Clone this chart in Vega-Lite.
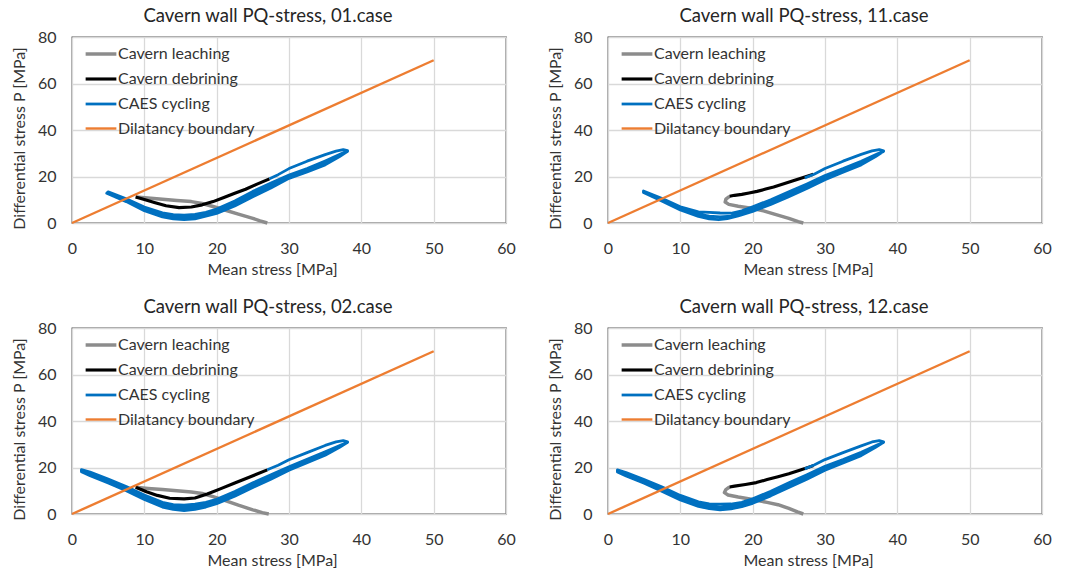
{
  "$schema": "https://vega.github.io/schema/vega-lite/v6.json",
  "padding": {"left": 10, "top": 5, "right": 30, "bottom": 4},
  "columns": 2,
  "spacing": {"row": 105, "column": 102},
  "bounds": "flush",
  "datasets": {
    "p1": [
      {"s":"Cavern leaching","x":8.8,"y":11.2},{"s":"Cavern leaching","x":10.5,"y":10.8},{"s":"Cavern leaching","x":12.5,"y":10.2},{"s":"Cavern leaching","x":14.5,"y":9.7},{"s":"Cavern leaching","x":16.5,"y":9.2},{"s":"Cavern leaching","x":18.0,"y":8.4},{"s":"Cavern leaching","x":19.5,"y":7.1},{"s":"Cavern leaching","x":21.0,"y":5.7},{"s":"Cavern leaching","x":23.0,"y":3.8},{"s":"Cavern leaching","x":25.0,"y":2.0},{"s":"Cavern leaching","x":26.0,"y":0.9},{"s":"Cavern leaching","x":27.0,"y":0.0},
      {"s":"Cavern debrining","x":8.8,"y":11.2},{"s":"Cavern debrining","x":10.0,"y":10.1},{"s":"Cavern debrining","x":11.5,"y":8.7},{"s":"Cavern debrining","x":13.0,"y":7.4},{"s":"Cavern debrining","x":14.8,"y":6.6},{"s":"Cavern debrining","x":16.5,"y":6.9},{"s":"Cavern debrining","x":18.0,"y":7.8},{"s":"Cavern debrining","x":19.5,"y":9.2},{"s":"Cavern debrining","x":21.0,"y":11.0},{"s":"Cavern debrining","x":22.5,"y":12.8},{"s":"Cavern debrining","x":24.0,"y":14.5},{"s":"Cavern debrining","x":25.5,"y":16.6},{"s":"Cavern debrining","x":27.3,"y":19.0},
      {"s":"CAES cycling","x":27.3,"y":19.0},{"s":"CAES cycling","x":28.5,"y":20.8},{"s":"CAES cycling","x":30,"y":23.4},{"s":"CAES cycling","x":32.5,"y":26.6},{"s":"CAES cycling","x":35,"y":29.4},{"s":"CAES cycling","x":36.5,"y":30.9},{"s":"CAES cycling","x":37.5,"y":31.6},{"s":"CAES cycling","x":38.1,"y":31.1},
      {"s":"CAES cycling","x":37.5,"y":30.2},{"s":"CAES cycling","x":35,"y":26.7},{"s":"CAES cycling","x":32.5,"y":23.4},{"s":"CAES cycling","x":30,"y":20.6},{"s":"CAES cycling","x":27.5,"y":17.2},{"s":"CAES cycling","x":25,"y":13.6},{"s":"CAES cycling","x":22.5,"y":9.5},{"s":"CAES cycling","x":20,"y":6.0},{"s":"CAES cycling","x":18.5,"y":4.6},{"s":"CAES cycling","x":17,"y":3.7},{"s":"CAES cycling","x":15.5,"y":3.4},{"s":"CAES cycling","x":14,"y":3.6},{"s":"CAES cycling","x":12.5,"y":4.4},{"s":"CAES cycling","x":10,"y":6.9},{"s":"CAES cycling","x":7.5,"y":10.4},{"s":"CAES cycling","x":5,"y":13.4},
      {"s":"CAES cycling","x":4.8,"y":12.8},{"s":"CAES cycling","x":7.5,"y":9.2},{"s":"CAES cycling","x":10,"y":5.3},{"s":"CAES cycling","x":12.5,"y":2.6},{"s":"CAES cycling","x":14,"y":1.8},{"s":"CAES cycling","x":15.5,"y":1.5},{"s":"CAES cycling","x":17,"y":1.8},{"s":"CAES cycling","x":18.5,"y":2.9},{"s":"CAES cycling","x":20,"y":4.1},{"s":"CAES cycling","x":22.5,"y":7.3},{"s":"CAES cycling","x":25,"y":11.3},{"s":"CAES cycling","x":27.5,"y":15.0},{"s":"CAES cycling","x":30,"y":19.2},{"s":"CAES cycling","x":32.5,"y":22.0},{"s":"CAES cycling","x":35,"y":25.0},{"s":"CAES cycling","x":37,"y":28.6},{"s":"CAES cycling","x":38.1,"y":30.8},
      {"s":"CAES cycling","x":37,"y":29.1},{"s":"CAES cycling","x":35,"y":25.9},{"s":"CAES cycling","x":32.5,"y":22.7},{"s":"CAES cycling","x":30,"y":19.9},{"s":"CAES cycling","x":27.5,"y":16.1},{"s":"CAES cycling","x":25,"y":12.5},{"s":"CAES cycling","x":22.5,"y":8.4},{"s":"CAES cycling","x":20,"y":5.0},{"s":"CAES cycling","x":18.5,"y":3.7},{"s":"CAES cycling","x":17,"y":2.8},{"s":"CAES cycling","x":15.5,"y":2.4},{"s":"CAES cycling","x":14,"y":2.7},{"s":"CAES cycling","x":12.5,"y":3.5},{"s":"CAES cycling","x":10,"y":6.1},{"s":"CAES cycling","x":7.5,"y":9.8},{"s":"CAES cycling","x":5,"y":13.1},
      {"s":"Dilatancy boundary","x":0,"y":0},{"s":"Dilatancy boundary","x":50,"y":70}
    ],
    "p2": [
      {"s":"Cavern leaching","x":16.8,"y":11.5},{"s":"Cavern leaching","x":16.3,"y":10.3},{"s":"Cavern leaching","x":16.2,"y":9.0},{"s":"Cavern leaching","x":16.7,"y":8.0},{"s":"Cavern leaching","x":18.0,"y":7.2},{"s":"Cavern leaching","x":20.0,"y":6.2},{"s":"Cavern leaching","x":21.5,"y":5.2},{"s":"Cavern leaching","x":23.0,"y":3.8},{"s":"Cavern leaching","x":25.0,"y":2.0},{"s":"Cavern leaching","x":26.3,"y":0.6},{"s":"Cavern leaching","x":27.0,"y":0.0},
      {"s":"Cavern debrining","x":16.8,"y":11.5},{"s":"Cavern debrining","x":17.5,"y":11.9},{"s":"Cavern debrining","x":18.5,"y":12.3},{"s":"Cavern debrining","x":19.5,"y":12.9},{"s":"Cavern debrining","x":20.6,"y":13.6},{"s":"Cavern debrining","x":21.8,"y":14.6},{"s":"Cavern debrining","x":22.9,"y":15.5},{"s":"Cavern debrining","x":24.2,"y":16.8},{"s":"Cavern debrining","x":25.6,"y":18.2},{"s":"Cavern debrining","x":27.0,"y":19.6},{"s":"Cavern debrining","x":28.4,"y":21.0},
      {"s":"CAES cycling","x":27.2,"y":19.4},{"s":"CAES cycling","x":28.5,"y":21.0},{"s":"CAES cycling","x":30,"y":23.4},{"s":"CAES cycling","x":32.5,"y":26.6},{"s":"CAES cycling","x":35,"y":29.5},{"s":"CAES cycling","x":36.5,"y":31.0},{"s":"CAES cycling","x":37.5,"y":31.6},{"s":"CAES cycling","x":38.1,"y":31.0},
      {"s":"CAES cycling","x":37.5,"y":30.1},{"s":"CAES cycling","x":35,"y":26.6},{"s":"CAES cycling","x":32.5,"y":23.4},{"s":"CAES cycling","x":30,"y":20.4},{"s":"CAES cycling","x":27.5,"y":16.8},{"s":"CAES cycling","x":25,"y":13.4},{"s":"CAES cycling","x":22.5,"y":10.0},{"s":"CAES cycling","x":20,"y":7.0},{"s":"CAES cycling","x":18.5,"y":5.2},{"s":"CAES cycling","x":17,"y":4.2},{"s":"CAES cycling","x":15.5,"y":4.3},{"s":"CAES cycling","x":14,"y":4.6},{"s":"CAES cycling","x":12.5,"y":4.8},{"s":"CAES cycling","x":10,"y":7.0},{"s":"CAES cycling","x":7.5,"y":10.5},{"s":"CAES cycling","x":4.9,"y":13.8},
      {"s":"CAES cycling","x":4.9,"y":13.1},{"s":"CAES cycling","x":7.5,"y":9.4},{"s":"CAES cycling","x":10,"y":5.6},{"s":"CAES cycling","x":12.5,"y":2.8},{"s":"CAES cycling","x":14,"y":1.8},{"s":"CAES cycling","x":15.3,"y":1.4},{"s":"CAES cycling","x":16.5,"y":1.9},{"s":"CAES cycling","x":18,"y":3.0},{"s":"CAES cycling","x":20,"y":5.0},{"s":"CAES cycling","x":22.5,"y":8.0},{"s":"CAES cycling","x":25,"y":11.3},{"s":"CAES cycling","x":27.5,"y":14.8},{"s":"CAES cycling","x":30,"y":18.6},{"s":"CAES cycling","x":32.5,"y":21.8},{"s":"CAES cycling","x":35,"y":25.0},{"s":"CAES cycling","x":37,"y":28.6},{"s":"CAES cycling","x":38.1,"y":30.8},
      {"s":"CAES cycling","x":37,"y":29.1},{"s":"CAES cycling","x":35,"y":25.8},{"s":"CAES cycling","x":32.5,"y":22.6},{"s":"CAES cycling","x":30,"y":19.5},{"s":"CAES cycling","x":27.5,"y":15.8},{"s":"CAES cycling","x":25,"y":12.4},{"s":"CAES cycling","x":22.5,"y":9.0},{"s":"CAES cycling","x":20,"y":6.0},{"s":"CAES cycling","x":18.5,"y":4.2},{"s":"CAES cycling","x":17,"y":3.0},{"s":"CAES cycling","x":15.5,"y":2.6},{"s":"CAES cycling","x":14,"y":3.0},{"s":"CAES cycling","x":12.5,"y":3.8},{"s":"CAES cycling","x":10,"y":6.3},{"s":"CAES cycling","x":7.5,"y":10.0},{"s":"CAES cycling","x":4.9,"y":13.5},
      {"s":"Dilatancy boundary","x":0,"y":0},{"s":"Dilatancy boundary","x":50,"y":70}
    ],
    "p3": [
      {"s":"Cavern leaching","x":8.8,"y":11.5},{"s":"Cavern leaching","x":10.5,"y":11.0},{"s":"Cavern leaching","x":12.5,"y":10.5},{"s":"Cavern leaching","x":14.5,"y":10.0},{"s":"Cavern leaching","x":16.5,"y":9.5},{"s":"Cavern leaching","x":18.0,"y":8.8},{"s":"Cavern leaching","x":19.5,"y":7.5},{"s":"Cavern leaching","x":21.0,"y":6.0},{"s":"Cavern leaching","x":23.0,"y":3.8},{"s":"Cavern leaching","x":25.0,"y":1.8},{"s":"Cavern leaching","x":26.3,"y":0.6},{"s":"Cavern leaching","x":27.2,"y":0.0},
      {"s":"Cavern debrining","x":8.8,"y":11.5},{"s":"Cavern debrining","x":10.3,"y":9.6},{"s":"Cavern debrining","x":11.8,"y":8.0},{"s":"Cavern debrining","x":13.5,"y":6.8},{"s":"Cavern debrining","x":15.5,"y":6.5},{"s":"Cavern debrining","x":17.0,"y":6.9},{"s":"Cavern debrining","x":18.7,"y":8.6},{"s":"Cavern debrining","x":20.5,"y":10.8},{"s":"Cavern debrining","x":22.5,"y":13.3},{"s":"Cavern debrining","x":24.5,"y":15.8},{"s":"Cavern debrining","x":27.0,"y":19.0},
      {"s":"CAES cycling","x":27.0,"y":19.0},{"s":"CAES cycling","x":28.5,"y":21.0},{"s":"CAES cycling","x":30,"y":23.3},{"s":"CAES cycling","x":32.5,"y":26.4},{"s":"CAES cycling","x":35,"y":29.5},{"s":"CAES cycling","x":36.5,"y":31.0},{"s":"CAES cycling","x":37.5,"y":31.6},{"s":"CAES cycling","x":38.1,"y":31.0},
      {"s":"CAES cycling","x":37.5,"y":30.1},{"s":"CAES cycling","x":35,"y":26.8},{"s":"CAES cycling","x":32.5,"y":23.5},{"s":"CAES cycling","x":30,"y":20.3},{"s":"CAES cycling","x":27.5,"y":16.9},{"s":"CAES cycling","x":25,"y":13.4},{"s":"CAES cycling","x":22.5,"y":9.7},{"s":"CAES cycling","x":20,"y":6.3},{"s":"CAES cycling","x":18.5,"y":5.0},{"s":"CAES cycling","x":17,"y":4.2},{"s":"CAES cycling","x":15.5,"y":3.8},{"s":"CAES cycling","x":14,"y":4.0},{"s":"CAES cycling","x":12.5,"y":5.0},{"s":"CAES cycling","x":10,"y":8.2},{"s":"CAES cycling","x":7.5,"y":11.8},{"s":"CAES cycling","x":5,"y":15.0},{"s":"CAES cycling","x":2.5,"y":18.0},{"s":"CAES cycling","x":1.3,"y":19.1},
      {"s":"CAES cycling","x":1.3,"y":18.2},{"s":"CAES cycling","x":2.5,"y":16.5},{"s":"CAES cycling","x":5,"y":13.3},{"s":"CAES cycling","x":7.5,"y":10.0},{"s":"CAES cycling","x":10,"y":6.2},{"s":"CAES cycling","x":12.5,"y":3.0},{"s":"CAES cycling","x":14,"y":2.0},{"s":"CAES cycling","x":15.5,"y":1.5},{"s":"CAES cycling","x":17,"y":2.0},{"s":"CAES cycling","x":18.5,"y":3.0},{"s":"CAES cycling","x":20,"y":4.4},{"s":"CAES cycling","x":22.5,"y":7.6},{"s":"CAES cycling","x":25,"y":11.4},{"s":"CAES cycling","x":27.5,"y":15.0},{"s":"CAES cycling","x":30,"y":18.8},{"s":"CAES cycling","x":32.5,"y":22.1},{"s":"CAES cycling","x":35,"y":25.3},{"s":"CAES cycling","x":37,"y":28.7},{"s":"CAES cycling","x":38.1,"y":30.8},
      {"s":"CAES cycling","x":37,"y":29.2},{"s":"CAES cycling","x":35,"y":26.0},{"s":"CAES cycling","x":32.5,"y":22.8},{"s":"CAES cycling","x":30,"y":19.5},{"s":"CAES cycling","x":27.5,"y":16.0},{"s":"CAES cycling","x":25,"y":12.4},{"s":"CAES cycling","x":22.5,"y":8.7},{"s":"CAES cycling","x":20,"y":5.3},{"s":"CAES cycling","x":18.5,"y":4.0},{"s":"CAES cycling","x":17,"y":3.1},{"s":"CAES cycling","x":15.5,"y":2.6},{"s":"CAES cycling","x":14,"y":3.0},{"s":"CAES cycling","x":12.5,"y":4.0},{"s":"CAES cycling","x":10,"y":7.2},{"s":"CAES cycling","x":7.5,"y":10.9},{"s":"CAES cycling","x":5,"y":14.2},{"s":"CAES cycling","x":2.5,"y":17.2},{"s":"CAES cycling","x":1.3,"y":18.7},
      {"s":"Dilatancy boundary","x":0,"y":0},{"s":"Dilatancy boundary","x":50,"y":70}
    ],
    "p4": [
      {"s":"Cavern leaching","x":16.8,"y":11.6},{"s":"Cavern leaching","x":16.3,"y":10.5},{"s":"Cavern leaching","x":16.1,"y":9.2},{"s":"Cavern leaching","x":16.6,"y":8.2},{"s":"Cavern leaching","x":18.0,"y":7.3},{"s":"Cavern leaching","x":20.0,"y":6.2},{"s":"Cavern leaching","x":22.0,"y":5.0},{"s":"Cavern leaching","x":23.5,"y":4.0},{"s":"Cavern leaching","x":25.0,"y":2.4},{"s":"Cavern leaching","x":26.2,"y":0.9},{"s":"Cavern leaching","x":27.0,"y":0.0},
      {"s":"Cavern debrining","x":16.8,"y":11.6},{"s":"Cavern debrining","x":17.5,"y":12.0},{"s":"Cavern debrining","x":19.0,"y":12.7},{"s":"Cavern debrining","x":20.5,"y":13.5},{"s":"Cavern debrining","x":22.0,"y":14.8},{"s":"Cavern debrining","x":23.5,"y":16.0},{"s":"Cavern debrining","x":25.0,"y":17.3},{"s":"Cavern debrining","x":26.5,"y":18.8},{"s":"Cavern debrining","x":28.4,"y":20.8},
      {"s":"CAES cycling","x":27.2,"y":19.4},{"s":"CAES cycling","x":28.5,"y":21.1},{"s":"CAES cycling","x":30,"y":23.4},{"s":"CAES cycling","x":32.5,"y":26.4},{"s":"CAES cycling","x":35,"y":29.3},{"s":"CAES cycling","x":36.5,"y":31.0},{"s":"CAES cycling","x":37.5,"y":31.6},{"s":"CAES cycling","x":38.1,"y":31.0},
      {"s":"CAES cycling","x":37.5,"y":30.1},{"s":"CAES cycling","x":35,"y":26.6},{"s":"CAES cycling","x":32.5,"y":23.4},{"s":"CAES cycling","x":30,"y":20.5},{"s":"CAES cycling","x":27.5,"y":16.9},{"s":"CAES cycling","x":25,"y":13.4},{"s":"CAES cycling","x":22.5,"y":9.8},{"s":"CAES cycling","x":20,"y":6.5},{"s":"CAES cycling","x":18.5,"y":5.0},{"s":"CAES cycling","x":17,"y":4.3},{"s":"CAES cycling","x":15.5,"y":4.2},{"s":"CAES cycling","x":14,"y":4.4},{"s":"CAES cycling","x":12.5,"y":5.2},{"s":"CAES cycling","x":10,"y":8.0},{"s":"CAES cycling","x":7.5,"y":11.6},{"s":"CAES cycling","x":5,"y":14.8},{"s":"CAES cycling","x":2.5,"y":17.8},{"s":"CAES cycling","x":1.3,"y":19.0},
      {"s":"CAES cycling","x":1.3,"y":18.1},{"s":"CAES cycling","x":2.5,"y":16.4},{"s":"CAES cycling","x":5,"y":13.2},{"s":"CAES cycling","x":7.5,"y":9.7},{"s":"CAES cycling","x":10,"y":6.0},{"s":"CAES cycling","x":12.5,"y":3.3},{"s":"CAES cycling","x":14,"y":2.3},{"s":"CAES cycling","x":15.5,"y":1.8},{"s":"CAES cycling","x":17,"y":2.2},{"s":"CAES cycling","x":18.5,"y":3.2},{"s":"CAES cycling","x":20,"y":4.6},{"s":"CAES cycling","x":22.5,"y":7.8},{"s":"CAES cycling","x":25,"y":11.4},{"s":"CAES cycling","x":27.5,"y":15.0},{"s":"CAES cycling","x":30,"y":18.8},{"s":"CAES cycling","x":32.5,"y":22.0},{"s":"CAES cycling","x":35,"y":25.1},{"s":"CAES cycling","x":37,"y":28.7},{"s":"CAES cycling","x":38.1,"y":30.8},
      {"s":"CAES cycling","x":37,"y":29.2},{"s":"CAES cycling","x":35,"y":25.9},{"s":"CAES cycling","x":32.5,"y":22.7},{"s":"CAES cycling","x":30,"y":19.6},{"s":"CAES cycling","x":27.5,"y":16.0},{"s":"CAES cycling","x":25,"y":12.4},{"s":"CAES cycling","x":22.5,"y":8.8},{"s":"CAES cycling","x":20,"y":5.5},{"s":"CAES cycling","x":18.5,"y":4.1},{"s":"CAES cycling","x":17,"y":3.3},{"s":"CAES cycling","x":15.5,"y":3.0},{"s":"CAES cycling","x":14,"y":3.3},{"s":"CAES cycling","x":12.5,"y":4.2},{"s":"CAES cycling","x":10,"y":7.0},{"s":"CAES cycling","x":7.5,"y":10.6},{"s":"CAES cycling","x":5,"y":14.0},{"s":"CAES cycling","x":2.5,"y":17.1},{"s":"CAES cycling","x":1.3,"y":18.6},
      {"s":"Dilatancy boundary","x":0,"y":0},{"s":"Dilatancy boundary","x":50,"y":70}
    ]
  },
  "concat": [
    {
      "data": {"name": "p1"},
      "width": 434, "height": 186,
      "title": {"text": "Cavern wall PQ-stress, 01.case", "dx": -21},
      "mark": {"type": "line", "strokeJoin": "round"},
      "encoding": {
        "x": {"field": "x", "type": "quantitative", "scale": {"domain": [0, 60], "nice": false}, "axis": {"values": [0,10,20,30,40,50,60], "title": "Mean stress [MPa]", "titleX": 200}},
        "y": {"field": "y", "type": "quantitative", "scale": {"domain": [0, 80], "nice": false}, "axis": {"values": [0,20,40,60,80], "title": "Differential stress P [MPa]", "titleY": 101}},
        "color": {"field": "s", "type": "nominal", "scale": {"domain": ["Cavern leaching","Cavern debrining","CAES cycling","Dilatancy boundary"], "range": ["#8c8c8c","#000000","#0070c0","#ed7d31"]}, "legend": {"title": null, "orient": "none", "legendX": 17, "legendY": 5}},
        "strokeWidth": {"field": "s", "type": "nominal", "scale": {"domain": ["Cavern leaching","Cavern debrining","CAES cycling","Dilatancy boundary"], "range": [3.5, 2.4, 2.4, 2]}, "legend": {"title": null, "orient": "none", "legendX": 17, "legendY": 5}},
        "order": {"value": null}
      }
    },
    {
      "data": {"name": "p2"},
      "width": 434, "height": 186,
      "title": {"text": "Cavern wall PQ-stress, 11.case", "dx": -21},
      "mark": {"type": "line", "strokeJoin": "round"},
      "encoding": {
        "x": {"field": "x", "type": "quantitative", "scale": {"domain": [0, 60], "nice": false}, "axis": {"values": [0,10,20,30,40,50,60], "title": "Mean stress [MPa]", "titleX": 200}},
        "y": {"field": "y", "type": "quantitative", "scale": {"domain": [0, 80], "nice": false}, "axis": {"values": [0,20,40,60,80], "title": "Differential stress P [MPa]", "titleY": 101}},
        "color": {"field": "s", "type": "nominal", "scale": {"domain": ["Cavern leaching","Cavern debrining","CAES cycling","Dilatancy boundary"], "range": ["#8c8c8c","#000000","#0070c0","#ed7d31"]}, "legend": {"title": null, "orient": "none", "legendX": 17, "legendY": 5}},
        "strokeWidth": {"field": "s", "type": "nominal", "scale": {"domain": ["Cavern leaching","Cavern debrining","CAES cycling","Dilatancy boundary"], "range": [3.5, 2.4, 2.4, 2]}, "legend": {"title": null, "orient": "none", "legendX": 17, "legendY": 5}},
        "order": {"value": null}
      }
    },
    {
      "data": {"name": "p3"},
      "width": 434, "height": 186,
      "title": {"text": "Cavern wall PQ-stress, 02.case", "dx": -21},
      "mark": {"type": "line", "strokeJoin": "round"},
      "encoding": {
        "x": {"field": "x", "type": "quantitative", "scale": {"domain": [0, 60], "nice": false}, "axis": {"values": [0,10,20,30,40,50,60], "title": "Mean stress [MPa]", "titleX": 200}},
        "y": {"field": "y", "type": "quantitative", "scale": {"domain": [0, 80], "nice": false}, "axis": {"values": [0,20,40,60,80], "title": "Differential stress P [MPa]", "titleY": 101}},
        "color": {"field": "s", "type": "nominal", "scale": {"domain": ["Cavern leaching","Cavern debrining","CAES cycling","Dilatancy boundary"], "range": ["#8c8c8c","#000000","#0070c0","#ed7d31"]}, "legend": {"title": null, "orient": "none", "legendX": 17, "legendY": 5}},
        "strokeWidth": {"field": "s", "type": "nominal", "scale": {"domain": ["Cavern leaching","Cavern debrining","CAES cycling","Dilatancy boundary"], "range": [3.5, 2.4, 2.4, 2]}, "legend": {"title": null, "orient": "none", "legendX": 17, "legendY": 5}},
        "order": {"value": null}
      }
    },
    {
      "data": {"name": "p4"},
      "width": 434, "height": 186,
      "title": {"text": "Cavern wall PQ-stress, 12.case", "dx": -21},
      "mark": {"type": "line", "strokeJoin": "round"},
      "encoding": {
        "x": {"field": "x", "type": "quantitative", "scale": {"domain": [0, 60], "nice": false}, "axis": {"values": [0,10,20,30,40,50,60], "title": "Mean stress [MPa]", "titleX": 200}},
        "y": {"field": "y", "type": "quantitative", "scale": {"domain": [0, 80], "nice": false}, "axis": {"values": [0,20,40,60,80], "title": "Differential stress P [MPa]", "titleY": 101}},
        "color": {"field": "s", "type": "nominal", "scale": {"domain": ["Cavern leaching","Cavern debrining","CAES cycling","Dilatancy boundary"], "range": ["#8c8c8c","#000000","#0070c0","#ed7d31"]}, "legend": {"title": null, "orient": "none", "legendX": 17, "legendY": 5}},
        "strokeWidth": {"field": "s", "type": "nominal", "scale": {"domain": ["Cavern leaching","Cavern debrining","CAES cycling","Dilatancy boundary"], "range": [3.5, 2.4, 2.4, 2]}, "legend": {"title": null, "orient": "none", "legendX": 17, "legendY": 5}},
        "order": {"value": null}
      }
    }
  ],
  "resolve": {
    "scale": {"color": "independent", "strokeWidth": "independent", "x": "independent", "y": "independent"},
    "legend": {"color": "independent", "strokeWidth": "independent"}
  },
  "config": {
    "font": "Lato",
    "background": "white",
    "view": {"stroke": "#404040", "strokeWidth": 1.3},
    "axis": {
      "grid": true, "gridColor": "#d9d9d9", "gridWidth": 1.3,
      "domain": false, "ticks": false,
      "labelFontSize": 16, "labelColor": "#333333",
      "labelFlush": false, "labelOverlap": false,
      "titleFontSize": 16, "titleFontWeight": "normal", "titleColor": "#333333"
    },
    "axisY": {"labelPadding": 16, "titlePadding": 10},
    "axisX": {"labelPadding": 17, "titlePadding": 5},
    "title": {"fontSize": 18.5, "fontWeight": "normal", "color": "#262626", "offset": 4},
    "legend": {
      "labelFontSize": 16, "labelColor": "#333333",
      "symbolType": "M-1.5,0H1.5", "symbolSize": 420,
      "rowPadding": 5, "labelOffset": 5, "padding": 0
    }
  }
}
